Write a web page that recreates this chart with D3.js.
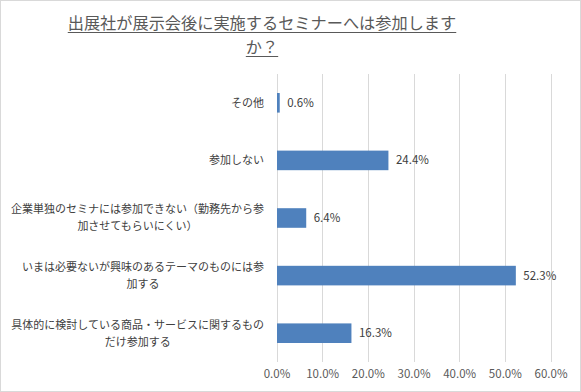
<!DOCTYPE html>
<html>
<head>
<meta charset="utf-8">
<script src="https://cdn.jsdelivr.net/npm/d3@7"></script>
<style>
  body { margin: 0; background: #fff; }
  svg { display: block; font-family: "Noto Sans CJK JP", "Noto Sans", sans-serif; }
</style>
</head>
<body>
<div id="chart"></div>
<script>
var categories = [
    ['その他'],
    ['参加しない'],
    ['企業単独のセミナには参加できない（勤務先から参', '加させてもらいにくい）'],
    ['いまは必要ないが興味のあるテーマのものには参', '加する'],
    ['具体的に検討している商品・サービスに関するもの', 'だけ参加する']
];
var values = [0.6, 24.4, 6.4, 52.3, 16.3];
var ticks = [0, 10, 20, 30, 40, 50, 60];
var title_lines = ['出展社が展示会後に実施するセミナーへは参加します', 'か？'];

var width = 581, height = 392;
var margin = {left: 276.5, right: 30.5, top: 74, bottom: 30};

var svg = d3.select('#chart').append('svg')
    .attr('width', width)
    .attr('height', height);

// frame
svg.append('rect')
    .attr('x', 0.5).attr('y', 0.5)
    .attr('width', width - 1).attr('height', height - 1)
    .attr('fill', '#fff')
    .attr('stroke', '#d9d9d9');

var x = d3.scaleLinear()
    .domain([0, 60])
    .range([margin.left, width - margin.right]);

var y = d3.scaleBand()
    .domain(d3.range(categories.length))
    .range([margin.top, height - margin.bottom])
    .paddingInner(0.66)
    .paddingOuter(0.33);

// gridlines
svg.append('g')
    .selectAll('line')
    .data(ticks)
    .enter()
    .append('line')
    .attr('x1', function(d) {return Math.round(x(d)) + 0.5})
    .attr('x2', function(d) {return Math.round(x(d)) + 0.5})
    .attr('y1', margin.top)
    .attr('y2', height - margin.bottom)
    .attr('stroke', '#d9d9d9');

// x axis labels
var xAxis = d3.axisBottom(x)
    .tickValues(ticks)
    .tickSize(0)
    .tickPadding(0)
    .tickFormat(function(d) {return d.toFixed(1) + '%'});

var axis = svg.append('g')
    .attr('transform', 'translate(0,' + (height - margin.bottom + 8) + ')')
    .call(xAxis);
axis.select('.domain').remove();
axis.selectAll('text')
    .attr('font-family', '"Noto Sans CJK JP", sans-serif')
    .attr('font-size', '11.5px')
    .attr('fill', '#595959');

// bars
svg.append('g')
    .selectAll('rect')
    .data(values)
    .enter()
    .append('rect')
    .attr('x', x(0) + 0.5)
    .attr('y', function(d, i) {return y(i)})
    .attr('width', function(d) {return x(d) - x(0)})
    .attr('height', y.bandwidth())
    .attr('fill', '#4f81bd');

// value labels
svg.append('g')
    .selectAll('text')
    .data(values)
    .enter()
    .append('text')
    .attr('x', function(d) {return x(d) + 8})
    .attr('y', function(d, i) {return y(i) + y.bandwidth() / 2})
    .attr('dy', '0.35em')
    .attr('font-size', '11.5px')
    .attr('fill', '#404040')
    .text(function(d) {return d.toFixed(1) + '%'});

// category labels, block right-aligned, lines centred
var labelRight = 264;
var lineH = 17;
categories.forEach(function(lines, i) {
    var g = svg.append('g');
    var cy = y(i) + y.bandwidth() / 2;
    var texts = g.selectAll('text')
        .data(lines)
        .enter()
        .append('text')
        .attr('y', function(d, k) {return cy + (k - (lines.length - 1) / 2) * lineH})
        .attr('dy', '0.35em')
        .attr('font-size', '11px')
        .attr('fill', '#404040')
        .attr('text-anchor', 'middle')
        .text(function(d) {return d});
    var maxw = 0;
    texts.each(function() {maxw = Math.max(maxw, this.getComputedTextLength())});
    texts.attr('x', labelRight - maxw / 2);
});

// title
var titleX = 262;
title_lines.forEach(function(t, k) {
    var base = 29 + k * 24;
    var txt = svg.append('text')
        .attr('x', titleX)
        .attr('y', base)
        .attr('text-anchor', 'middle')
        .attr('font-size', '16.2px')
        .attr('fill', '#595959')
        .text(t);
    var w = txt.node().getComputedTextLength();
    svg.append('line')
        .attr('x1', titleX - w / 2)
        .attr('x2', titleX + w / 2)
        .attr('y1', base + 3.5)
        .attr('y2', base + 3.5)
        .attr('stroke', '#595959')
        .attr('stroke-width', 1);
});
</script>
</body>
</html>
